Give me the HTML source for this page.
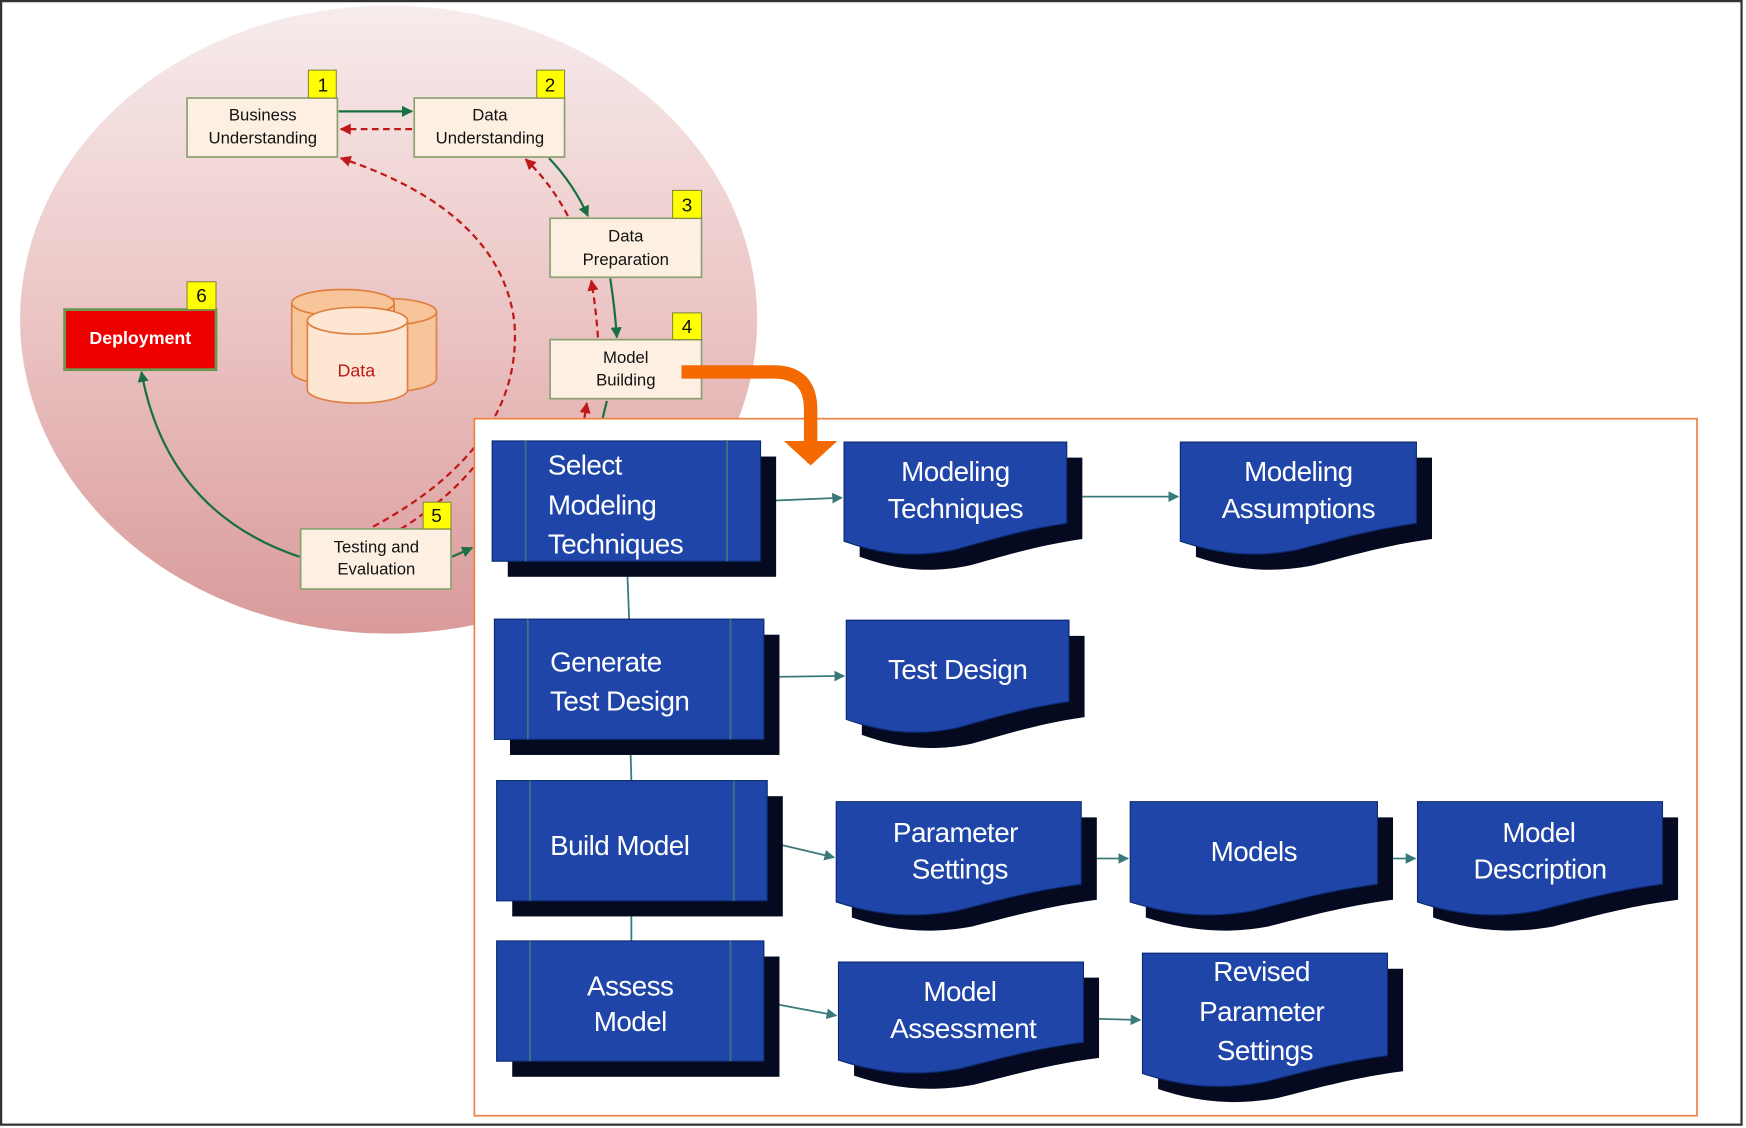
<!DOCTYPE html>
<html><head><meta charset="utf-8"><style>
html,body{margin:0;padding:0;background:#fff;}
svg{display:block;}
text{font-family:"Liberation Sans",sans-serif;}
</style></head><body>
<svg width="1746" height="1128" viewBox="0 0 1568 1013" preserveAspectRatio="none" xmlns="http://www.w3.org/2000/svg">
<defs>
<linearGradient id="eg" x1="0" y1="0" x2="0" y2="1">
<stop offset="0" stop-color="#f7ecec"/><stop offset="0.5" stop-color="#ecc4c4"/><stop offset="1" stop-color="#d99a9a"/>
</linearGradient>
<marker id="ag" viewBox="0 0 10 10" refX="9" refY="5" markerWidth="5" markerHeight="5" orient="auto"><path d="M0,0L10,5L0,10z" fill="#1a7040"/></marker>
<marker id="ar" viewBox="0 0 10 10" refX="9" refY="5" markerWidth="5" markerHeight="5" orient="auto"><path d="M0,0L10,5L0,10z" fill="#c01818"/></marker>
<marker id="at" viewBox="0 0 10 10" refX="9" refY="5" markerWidth="6" markerHeight="6" orient="auto"><path d="M0,0L10,5L0,10z" fill="#3a7a7a"/></marker>
</defs>
<rect x="1" y="1" width="1563" height="1009" fill="#fff" stroke="#333" stroke-width="2"/>
<ellipse cx="349" cy="287" rx="331" ry="282" fill="url(#eg)"/>
<g fill="none" stroke-width="2">
<line x1="304" y1="100" x2="370" y2="100" stroke="#1a7040" marker-end="url(#ag)"/>
<line x1="370" y1="116" x2="306" y2="116" stroke="#c01818" stroke-dasharray="6,4" marker-end="url(#ar)"/>
<path d="M493,142 Q515,165 528,194" stroke="#1a7040" marker-end="url(#ag)"/>
<path d="M510,194 Q495,165 472,143" stroke="#c01818" stroke-dasharray="6,4" marker-end="url(#ar)"/>
<path d="M548,250 Q552,275 554,303" stroke="#1a7040" marker-end="url(#ag)"/>
<path d="M537,303 Q535,275 531,252" stroke="#c01818" stroke-dasharray="6,4" marker-end="url(#ar)"/>
<path d="M545,360 Q540,380 537,395" stroke="#1a7040"/>
<path d="M522,395 Q524,380 527,362" stroke="#c01818" stroke-dasharray="6,4" marker-end="url(#ar)"/>
<path d="M335,473 Q470,400 462,290 Q450,190 306,142" stroke="#c01818" stroke-dasharray="6,4" marker-end="url(#ar)"/>
<path d="M360,475 Q400,450 425,420" stroke="#c01818" stroke-dasharray="6,4"/>
<path d="M406,500 L424,492" stroke="#1a7040" marker-end="url(#ag)"/>
<path d="M269,500 Q150,460 127,334" stroke="#1a7040" marker-end="url(#ag)"/>
</g>
<g stroke="#8aa070" stroke-width="1.5" fill="#fdf0e2">
<rect x="168" y="88" width="135" height="53"/>
<rect x="372" y="88" width="135" height="53"/>
<rect x="494" y="196" width="136" height="53"/>
<rect x="494" y="305" width="136" height="53"/>
<rect x="270" y="475" width="135" height="54"/>
</g>
<rect x="58" y="278" width="136" height="54" fill="#ee0000" stroke="#6a9a50" stroke-width="2.5"/>
<g fill="#ffff00" stroke="#8a8a40" stroke-width="1">
<rect x="277" y="63" width="25" height="25"/><rect x="482" y="63" width="25" height="25"/>
<rect x="604" y="171" width="26" height="25"/><rect x="604" y="281" width="26" height="24"/>
<rect x="380" y="451" width="25" height="24"/><rect x="168" y="253" width="26" height="25"/>
</g>
<g font-size="17" text-anchor="middle" fill="#111">
<text x="290" y="82">1</text><text x="494" y="82">2</text><text x="617" y="190">3</text>
<text x="617" y="299">4</text><text x="392" y="469">5</text><text x="181" y="271">6</text>
</g>
<g font-size="15" text-anchor="middle" fill="#111">
<text x="236" y="108">Business</text><text x="236" y="129">Understanding</text>
<text x="440" y="108">Data</text><text x="440" y="129">Understanding</text>
<text x="562" y="217">Data</text><text x="562" y="238">Preparation</text>
<text x="562" y="326">Model</text><text x="562" y="346">Building</text>
<text x="338" y="496">Testing and</text><text x="338" y="516">Evaluation</text>
</g>
<text x="126" y="309" font-size="16" font-weight="bold" fill="#fff" text-anchor="middle">Deployment</text>
<g stroke="#e08040" stroke-width="1.5" fill="#f8c49a">
<path d="M300,280 v60 a46,12 0 0 0 92,0 v-60"/>
<ellipse cx="346" cy="280" rx="46" ry="12"/>
<path d="M262,272 v62 a46,12 0 0 0 92,0 v-62"/>
<ellipse cx="308" cy="272" rx="46" ry="12" />
<path d="M276,288 v62 a45,12 0 0 0 90,0 v-62" fill="#fde6d2"/>
<ellipse cx="321" cy="288" rx="45" ry="12" fill="#fde6d2"/>
</g>
<text x="320" y="338" font-size="16" fill="#c01818" text-anchor="middle">Data</text>
<rect x="426" y="376" width="1098" height="626" fill="#fff" stroke="#f08040" stroke-width="1.5"/>
<path d="M612,334 H695 Q728,334 728,368 V398" fill="none" stroke="#f56a00" stroke-width="12"/>
<path d="M704,396 L752,396 L728,418 Z" fill="#f56a00"/>
<g stroke="#3a7a7a" stroke-width="1.6" fill="none">
<line x1="563" y1="505" x2="565" y2="556"/>
<line x1="566" y1="665" x2="567" y2="701"/>
<line x1="567" y1="810" x2="567" y2="845"/>
<line x1="684" y1="450" x2="756" y2="447" marker-end="url(#at)"/>
<line x1="972" y1="446" x2="1058" y2="446" marker-end="url(#at)"/>
<line x1="687" y1="608" x2="758" y2="607" marker-end="url(#at)"/>
<line x1="690" y1="756" x2="749" y2="770" marker-end="url(#at)"/>
<line x1="985" y1="771" x2="1013" y2="771" marker-end="url(#at)"/>
<line x1="1250" y1="771" x2="1271" y2="771" marker-end="url(#at)"/>
<line x1="687" y1="900" x2="751" y2="912" marker-end="url(#at)"/>
<line x1="987" y1="915" x2="1024" y2="916" marker-end="url(#at)"/>
</g>
<g>
<rect x="456" y="410" width="241" height="108" fill="#050a20"/>
<rect x="442" y="396" width="241" height="108" fill="#1f45a8" stroke="#0a2a70"/>
<rect x="458" y="570" width="242" height="108" fill="#050a20"/>
<rect x="444" y="556" width="242" height="108" fill="#1f45a8" stroke="#0a2a70"/>
<rect x="460" y="715" width="243" height="108" fill="#050a20"/>
<rect x="446" y="701" width="243" height="108" fill="#1f45a8" stroke="#0a2a70"/>
<rect x="460" y="859" width="240" height="108" fill="#050a20"/>
<rect x="446" y="845" width="240" height="108" fill="#1f45a8" stroke="#0a2a70"/>
</g>
<g stroke="#3a7a7a" stroke-width="1.5">
<line x1="472" y1="396" x2="472" y2="504"/><line x1="653" y1="396" x2="653" y2="504"/>
<line x1="474" y1="556" x2="474" y2="664"/><line x1="656" y1="556" x2="656" y2="664"/>
<line x1="476" y1="701" x2="476" y2="809"/><line x1="659" y1="701" x2="659" y2="809"/>
<line x1="476" y1="845" x2="476" y2="953"/><line x1="656" y1="845" x2="656" y2="953"/>
</g>
<g>
<path d="M772,411 H972 V484 C930,490 900,500 870,508 C830,516 800,510 772,500 Z" fill="#050a20"/>
<path d="M758,397 H958 V470 C916,476 886,486 856,494 C816,502 786,496 758,486 Z" fill="#1f45a8" stroke="#0a2a70"/>
<path d="M1074,411 H1286 V484 C1242,490 1210,500 1178,508 C1136,516 1104,510 1074,500 Z" fill="#050a20"/>
<path d="M1060,397 H1272 V470 C1228,476 1196,486 1164,494 C1122,502 1090,496 1060,486 Z" fill="#1f45a8" stroke="#0a2a70"/>
<path d="M774,571 H974 V644 C932,650 902,660 872,668 C832,676 802,670 774,660 Z" fill="#050a20"/>
<path d="M760,557 H960 V630 C918,636 888,646 858,654 C818,662 788,656 760,646 Z" fill="#1f45a8" stroke="#0a2a70"/>
<path d="M765,734 H985 V808 C939,814 905,824 873,832 C829,840 795,834 765,824 Z" fill="#050a20"/>
<path d="M751,720 H971 V794 C925,800 891,810 859,818 C815,826 781,820 751,810 Z" fill="#1f45a8" stroke="#0a2a70"/>
<path d="M1029,734 H1251 V808 C1205,814 1171,824 1139,832 C1095,840 1061,834 1029,824 Z" fill="#050a20"/>
<path d="M1015,720 H1237 V794 C1191,800 1157,810 1125,818 C1081,826 1047,820 1015,810 Z" fill="#1f45a8" stroke="#0a2a70"/>
<path d="M1287,734 H1507 V808 C1461,814 1427,824 1395,832 C1351,840 1317,834 1287,824 Z" fill="#050a20"/>
<path d="M1273,720 H1493 V794 C1447,800 1413,810 1381,818 C1337,826 1303,820 1273,810 Z" fill="#1f45a8" stroke="#0a2a70"/>
<path d="M767,878 H987 V950 C941,956 907,966 875,974 C831,982 797,976 767,966 Z" fill="#050a20"/>
<path d="M753,864 H973 V936 C927,942 893,952 861,960 C817,968 783,962 753,952 Z" fill="#1f45a8" stroke="#0a2a70"/>
<path d="M1040,870 H1260 V962 C1214,968 1180,978 1148,986 C1104,994 1070,988 1040,978 Z" fill="#050a20"/>
<path d="M1026,856 H1246 V948 C1200,954 1166,964 1134,972 C1090,980 1056,974 1026,964 Z" fill="#1f45a8" stroke="#0a2a70"/>
</g>
<g font-size="25" fill="#fff" letter-spacing="-0.5">
<text x="492" y="426">Select</text><text x="492" y="462">Modeling</text><text x="492" y="497">Techniques</text>
<text x="494" y="603">Generate</text><text x="494" y="638">Test Design</text>
<text x="494" y="768">Build Model</text>
<g text-anchor="middle">
<text x="566" y="894">Assess</text><text x="566" y="926">Model</text>
<text x="858" y="432">Modeling</text><text x="858" y="465">Techniques</text>
<text x="1166" y="432">Modeling</text><text x="1166" y="465">Assumptions</text>
<text x="860" y="610">Test Design</text>
<text x="858" y="756">Parameter</text><text x="862" y="789">Settings</text>
<text x="1126" y="773">Models</text>
<text x="1382" y="756">Model</text><text x="1383" y="789">Description</text>
<text x="862" y="899">Model</text><text x="865" y="932">Assessment</text>
<text x="1133" y="881">Revised</text><text x="1133" y="917">Parameter</text><text x="1136" y="952">Settings</text>
</g>
</g>
</svg>
</body></html>
